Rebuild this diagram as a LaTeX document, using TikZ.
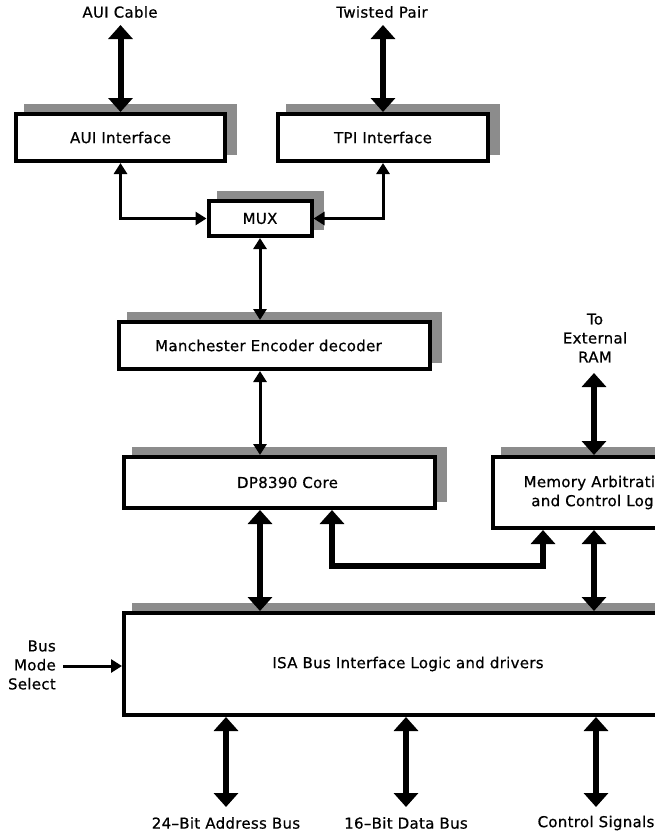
\documentclass[tikz,border=0pt]{standalone}
\usepackage{fontspec}
\setmainfont{DejaVu Sans}[LetterSpace=2,FakeBold=0.6]
\usetikzlibrary{arrows.meta,shadows}
\definecolor{shade}{gray}{0.55}
\tikzset{
  box/.style={draw, line width=4pt, fill=white, inner sep=0pt, align=center,
    general shadow={shadow xshift=10pt, shadow yshift=8.5pt, fill=shade, draw=shade}},
  lbl/.style={inner sep=0pt, align=center},
  bustip/.tip={Triangle[length=14pt,width=24pt]},
  busarr/.style={line width=6pt, arrows={bustip-bustip}},
  sigtip/.tip={Triangle[length=11pt,width=13pt]},
  sigarr/.style={line width=3pt, arrows={sigtip-sigtip}},
  sigone/.style={line width=3pt, arrows={-sigtip}},
}
\begin{document}
\begin{tikzpicture}[x=1pt,y=-1pt,font=\fontsize{15}{19}\selectfont]
\useasboundingbox (0,0) rectangle (655,833);
\clip (0,0) rectangle (655,833);

% boxes
\node[box, minimum width=209pt, minimum height=47pt] (aui) at (120.5,137.5) {AUI Interface};
\node[box, minimum width=210pt, minimum height=47pt] (tpi) at (383,137.5) {TPI Interface};
\node[box, minimum width=103pt, minimum height=35pt] (mux) at (260,218.5) {MUX};
\node[box, minimum width=311pt, minimum height=47pt] (man) at (274.5,345.5) {Manchester Encoder decoder\hspace*{12pt}};
\node[box, minimum width=311pt, minimum height=51pt] (dp) at (279.5,482.5) {\hspace*{16pt}DP8390 Core};
\node[box, minimum width=202pt, minimum height=71pt] (mem) at (594,492.5) {\hspace*{10pt}Memory Arbitration\\\hspace*{10pt}and Control Logic};
\node[box, minimum width=568pt, minimum height=102pt] (isa) at (408,664) {ISA Bus Interface Logic and drivers};

% labels
\node[lbl] (auil) at (120,12) {AUI Cable};
\node[lbl] (tpil) at (382,12) {Twisted Pair};
\node[lbl] (raml) at (595,338) {To\\External\\RAM};
\node[lbl, align=right, anchor=east] (bmsl) at (56,665) {Bus\\Mode\\Select};
\node[lbl] (adl) at (226,823) {24–Bit Address Bus};
\node[lbl] (dal) at (406,823) {16–Bit Data Bus};
\node[lbl] (csl) at (596,823) {Control Signals};

% free ends
\coordinate (auie) at (120.5,25);
\coordinate (tpie) at (383,25);
\coordinate (rame) at (594,373);
\coordinate (bmse) at (63,666);
\coordinate (ade) at (226,807);
\coordinate (dae) at (406,807);
\coordinate (cse) at (596,807);
\coordinate (k1) at (332,566);
\coordinate (k2) at (543,566);
\coordinate (mx) at (594,0);

% bus arrows
\draw[busarr] (auie) -- (aui.north);
\draw[busarr] (tpie) -- (tpi.north);
\draw[busarr] (rame) -- (mem.north -| rame);
\draw[busarr] (mux.south |- dp.south) -- (mux.south |- isa.north);
\draw[busarr] (mem.south -| mx) -- (isa.north -| mx);
\draw[busarr] (dp.south -| k1) -- (k1) -- (k2) -- (mem.south -| k2);
\draw[busarr] (isa.south -| ade) -- (ade);
\draw[busarr] (isa.south -| dae) -- (dae);
\draw[busarr] (isa.south -| cse) -- (cse);

% signal arrows
\draw[sigarr] (aui.south) |- (mux.west);
\draw[sigarr] (tpi.south) |- (mux.east);
\draw[sigarr] (mux.south) -- (mux.south |- man.north);
\draw[sigarr] (mux.south |- man.south) -- (mux.south |- dp.north);
\draw[sigone] (bmse) -- (isa.west |- bmse);
\end{tikzpicture}
\end{document}
